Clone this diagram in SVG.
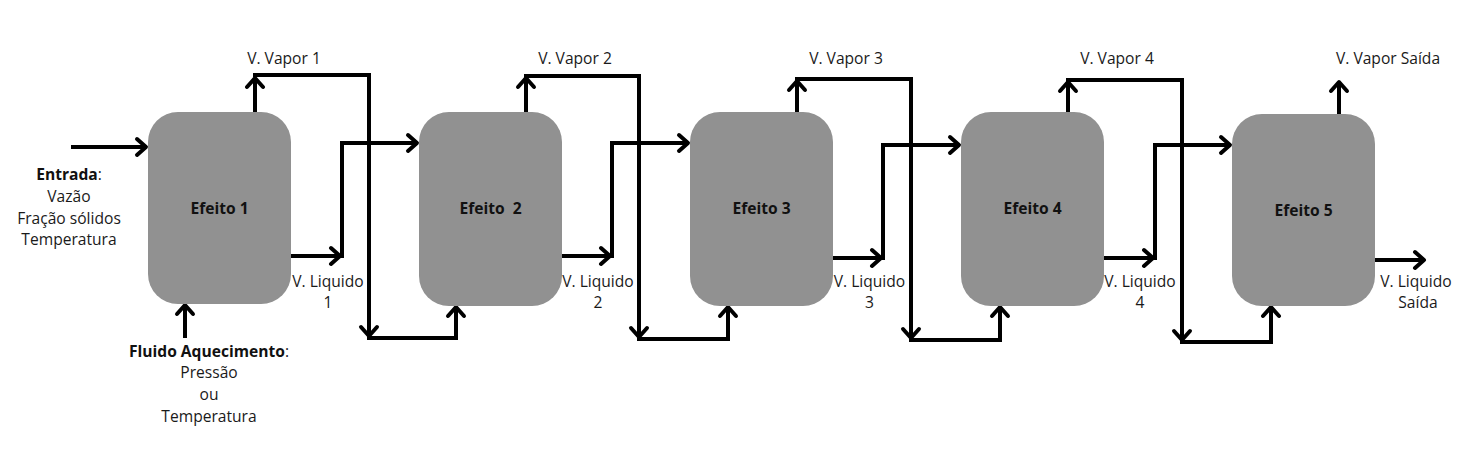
<svg xmlns="http://www.w3.org/2000/svg" width="1473" height="467" viewBox="0 0 1473 467">
<style>
.box{fill:#919191;}
.t{font-family:"Open Sans","Noto Sans",sans-serif;font-size:15.6px;fill:#1a1a1a;text-anchor:middle;}
.b{font-weight:bold;fill:#111;}
.c{fill:none;stroke:#000;stroke-width:4;stroke-linejoin:miter;}
.a{marker-end:url(#arr);}
</style>
<defs>
<marker id="arr" markerUnits="userSpaceOnUse" markerWidth="24" markerHeight="24" viewBox="-12 -12 24 24" refX="0" refY="0" orient="auto">
<path d="M-9,-8 L0,0 L-9,8" fill="none" stroke="#000" stroke-width="4" stroke-linejoin="round" stroke-linecap="round"/>
</marker>
</defs>
<rect width="1473" height="467" fill="#fff"/>

<g id="connectors">
<path class="c a" d="M71,147 H146"/>
<path class="c a" d="M185,338 V305"/>
<path class="c a" d="M255,112 V78"/>
<path class="c a" d="M253,75 H369 V336"/>
<path class="c a" d="M367,338 H456 V307"/>
<path class="c a" d="M291,256 H340"/>
<path class="c a" d="M342,258 V143 H417"/>
<path class="c a" d="M526,112 V78"/>
<path class="c a" d="M524,76 H639 V337"/>
<path class="c a" d="M637,339 H728 V307"/>
<path class="c a" d="M562,256 H610"/>
<path class="c a" d="M612,258 V143 H688"/>
<path class="c a" d="M797,112 V81"/>
<path class="c a" d="M795,79 H911 V338"/>
<path class="c a" d="M909,340 H1000 V307"/>
<path class="c a" d="M833,258 H881"/>
<path class="c a" d="M883,260 V145 H959"/>
<path class="c a" d="M1068,112 V82"/>
<path class="c a" d="M1066,80 H1182 V340"/>
<path class="c a" d="M1180,342 H1271 V307"/>
<path class="c a" d="M1104,258 H1153"/>
<path class="c a" d="M1155,260 V145 H1230"/>
<path class="c a" d="M1339,114 V82"/>
<path class="c a" d="M1375,260 H1424"/>
</g>

<g id="effect1">
<rect class="box" x="148" y="112" width="143" height="192" rx="30"/>
<text class="t b" x="219.5" y="214">Efeito 1</text>
</g>
<g id="effect2">
<rect class="box" x="419" y="112" width="143" height="194" rx="30"/>
<text class="t b" x="490.5" y="214" xml:space="preserve">Efeito  2</text>
</g>
<g id="effect3">
<rect class="box" x="690" y="112" width="143" height="194" rx="30"/>
<text class="t b" x="761.5" y="214">Efeito 3</text>
</g>
<g id="effect4">
<rect class="box" x="961" y="112" width="143" height="194" rx="30"/>
<text class="t b" x="1032.5" y="214">Efeito 4</text>
</g>
<g id="effect5">
<rect class="box" x="1232" y="114" width="143" height="192" rx="30"/>
<text class="t b" x="1303.5" y="216">Efeito 5</text>
</g>

<g id="labels">
<text class="t" x="69" y="180"><tspan class="b">Entrada</tspan>:</text>
<text class="t" x="69" y="202">Vazão</text>
<text class="t" x="69" y="224">Fração sólidos</text>
<text class="t" x="69" y="245">Temperatura</text>

<text class="t" x="209" y="357"><tspan class="b">Fluido Aquecimento</tspan>:</text>
<text class="t" x="209" y="378">Pressão</text>
<text class="t" x="209" y="400">ou</text>
<text class="t" x="209" y="422">Temperatura</text>

<text class="t" x="284" y="64">V. Vapor 1</text>
<text class="t" x="575" y="64">V. Vapor 2</text>
<text class="t" x="846" y="64">V. Vapor 3</text>
<text class="t" x="1117" y="64">V. Vapor 4</text>
<text class="t" x="1388" y="64">V. Vapor Saída</text>

<text class="t" x="328" y="287">V. Liquido</text>
<text class="t" x="328" y="308">1</text>
<text class="t" x="598" y="287">V. Liquido</text>
<text class="t" x="598" y="308">2</text>
<text class="t" x="869.5" y="287">V. Liquido</text>
<text class="t" x="869.5" y="308">3</text>
<text class="t" x="1140" y="287">V. Liquido</text>
<text class="t" x="1140" y="308">4</text>
<text class="t" x="1416" y="287">V. Liquido</text>
<text class="t" x="1418" y="308">Saída</text>
</g>
</svg>
